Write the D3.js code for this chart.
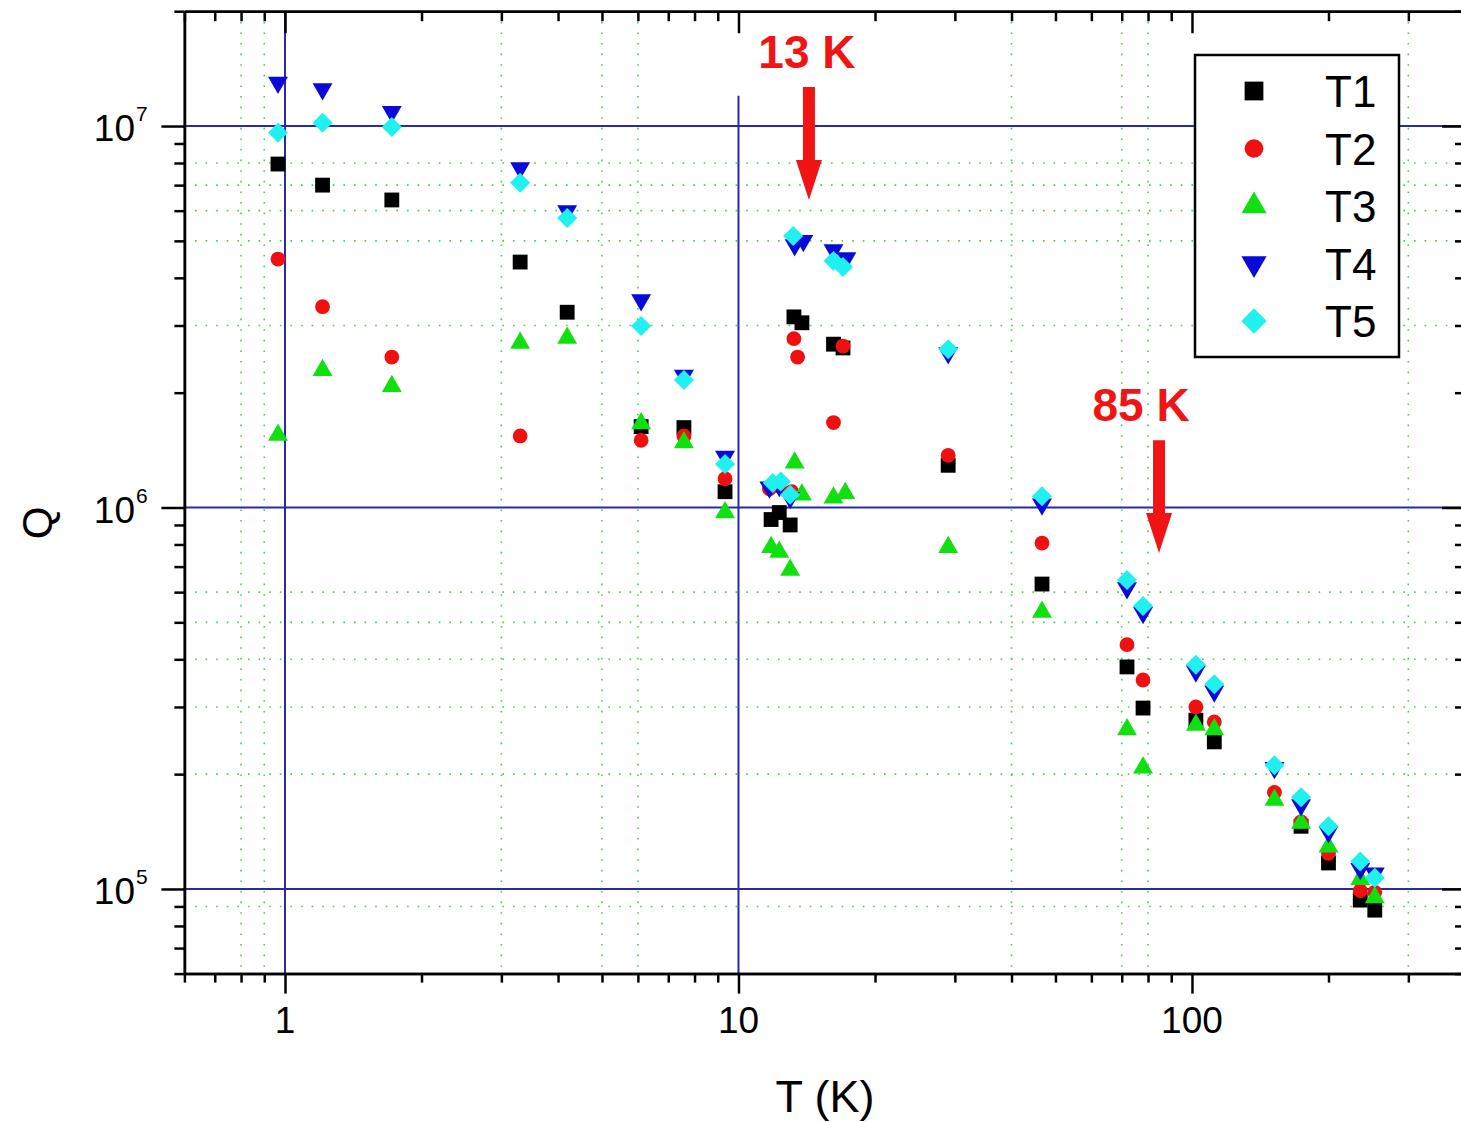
<!DOCTYPE html>
<html lang="en">
<head>
<meta charset="UTF-8">
<title>Q vs T</title>
<style>
  body { margin: 0; background: #fff; }
  svg { display: block; font-family: Arial, "Liberation Sans", sans-serif; }
</style>
</head>
<body>
<div id="chart"></div>
<script src="https://d3js.org/d3.v7.min.js"></script>
<script>
// [T (K), Q], one array per sample
const T1 = [
  [0.965, 7.95e6], [1.21, 7.0e6], [1.72, 6.4e6], [3.30, 4.4e6], [4.19, 3.25e6],
  [6.10, 1.63e6], [7.58, 1.62e6], [9.34, 1.10e6],
  [11.8, 9.3e5], [12.3, 9.7e5], [13.0, 9.0e5], [13.25, 3.16e6], [13.8, 3.05e6],
  [16.2, 2.68e6], [17.0, 2.62e6], [29.0, 1.29e6], [46.7, 6.3e5],
  [71.9, 3.82e5], [78.0, 2.98e5], [102, 2.77e5], [112, 2.43e5],
  [174, 1.46e5], [200, 1.17e5], [235, 9.35e4], [253, 8.8e4]
];
const T2 = [
  [0.965, 4.48e6], [1.21, 3.36e6], [1.72, 2.48e6], [3.30, 1.54e6],
  [6.10, 1.50e6], [7.58, 1.54e6], [9.34, 1.19e6],
  [11.7, 1.12e6], [12.3, 1.14e6], [13.1, 1.10e6], [13.25, 2.77e6], [13.5, 2.48e6],
  [16.2, 1.67e6], [17.0, 2.65e6], [29.0, 1.37e6], [46.7, 8.07e5],
  [71.9, 4.37e5], [78.0, 3.53e5], [102, 3.0e5], [112, 2.74e5],
  [152, 1.79e5], [174, 1.5e5], [200, 1.24e5], [235, 9.9e4], [253, 9.8e4]
];
const T3 = [
  [0.965, 1.55e6], [1.21, 2.29e6], [1.72, 2.08e6], [3.30, 2.70e6], [4.19, 2.78e6],
  [6.10, 1.66e6], [7.58, 1.48e6], [9.34, 9.7e5],
  [11.8, 7.87e5], [12.3, 7.64e5], [13.0, 6.86e5], [13.3, 1.31e6], [13.8, 1.08e6],
  [16.2, 1.06e6], [17.2, 1.09e6], [29.0, 7.87e5], [46.7, 5.32e5],
  [71.9, 2.62e5], [78.0, 2.08e5], [102, 2.69e5], [112, 2.62e5],
  [152, 1.71e5], [174, 1.49e5], [200, 1.29e5], [235, 1.06e5], [253, 9.5e4]
];
const T4 = [
  [0.965, 1.30e7], [1.21, 1.25e7], [1.72, 1.09e7], [3.30, 7.76e6], [4.19, 5.99e6],
  [6.10, 3.50e6], [7.58, 2.22e6], [9.34, 1.36e6],
  [11.7, 1.13e6], [12.3, 1.14e6], [13.0, 1.06e6], [13.3, 4.88e6], [13.9, 5.0e6],
  [16.2, 4.73e6], [17.3, 4.51e6], [29.0, 2.54e6], [46.7, 1.02e6],
  [71.9, 6.15e5], [78.0, 5.3e5], [102, 3.72e5], [112, 3.3e5],
  [152, 2.08e5], [174, 1.66e5], [200, 1.41e5], [235, 1.13e5], [253, 1.1e5]
];
const T5 = [
  [0.965, 9.6e6], [1.21, 1.02e7], [1.72, 9.94e6], [3.30, 7.1e6], [4.19, 5.74e6],
  [6.10, 2.99e6], [7.58, 2.16e6], [9.34, 1.30e6],
  [11.9, 1.16e6], [12.4, 1.17e6], [13.0, 1.08e6], [13.2, 5.15e6],
  [16.2, 4.43e6], [17.0, 4.27e6], [29.0, 2.6e6], [46.7, 1.07e6],
  [71.9, 6.46e5], [78.0, 5.52e5], [102, 3.87e5], [112, 3.44e5],
  [152, 2.11e5], [174, 1.74e5], [200, 1.46e5], [235, 1.18e5], [253, 1.07e5]
];

// ticks and grid
const xMajor = [1, 10, 100];
const xMinor = [0.6, 0.7, 0.8, 0.9, 2, 3, 4, 5, 6, 7, 8, 9, 20, 30, 40, 50, 60, 70, 80, 90, 200, 300, 400];
const yMajor = [1e5, 1e6, 1e7];
const yMinor = [6e4, 7e4, 8e4, 9e4, 2e5, 3e5, 4e5, 5e5, 6e5, 7e5, 8e5, 9e5,
                2e6, 3e6, 4e6, 5e6, 6e6, 7e6, 8e6, 9e6, 2e7];
const gridT = [0.8, 0.9, 3, 5, 6, 40, 70, 80, 300];
const gridQ = [9e4, 2e5, 3e5, 4e5, 5e5, 6e5, 3e6, 5e6, 6e6, 7e6, 8e6];
const blueQ = [1e5, 1e6, 1e7];
const blueT = [1, 10];
const blueTop = [2e7, 1.2e7];

// arrows: [T, Q start, Q tip]
const arrows = [
  {label: "13 K", at: [14.3, 1.265e7, 6.4e6], dx: -2},
  {label: "85 K", at: [84.6, 1.50e6, 7.6e5], dx: -18}
];

const series = [
  {name: "T1", data: T1, color: "#000000", type: d3.symbolSquare, size: 220, rot: 0},
  {name: "T2", data: T2, color: "#f01010", type: d3.symbolCircle, size: 172, rot: 0},
  {name: "T3", data: T3, color: "#10e010", type: d3.symbolTriangle, size: 172, rot: 0},
  {name: "T4", data: T4, color: "#0a0ad8", type: d3.symbolTriangle, size: 172, rot: 180},
  {name: "T5", data: T5, color: "#20f0f0", type: d3.symbolSquare, size: 200, rot: 45}
];

const W = 1461, H = 1122;
const x = d3.scaleLog().domain([0.6, 400]).range([184.4, 1465]);
const y = d3.scaleLog().domain([6e4, 2e7]).range([973.6, 11.2]);
const [x0, x1] = x.range();
const [y0, y1] = y.range();

const svg = d3.select("#chart").append("svg").attr("width", W).attr("height", H);

// dotted green grid
const grid = svg.append("g").attr("stroke", "#4ccc4c").attr("stroke-width", 1.6)
  .attr("stroke-dasharray", "1.6,9");
grid.selectAll(".gx").data(gridT).join("line")
  .attr("x1", d => x(d)).attr("x2", d => x(d)).attr("y1", y1).attr("y2", y0);
grid.selectAll(".gy").data(gridQ).join("line")
  .attr("y1", d => y(d)).attr("y2", d => y(d)).attr("x1", x0).attr("x2", x1);

// blue solid lines
const blue = svg.append("g").attr("stroke", "#2a2aa8").attr("stroke-width", 2);
blue.selectAll(".bh").data(blueQ).join("line")
  .attr("x1", x0).attr("x2", x1).attr("y1", d => y(d)).attr("y2", d => y(d));
blue.selectAll(".bv").data(blueT).join("line")
  .attr("x1", d => x(d)).attr("x2", d => x(d))
  .attr("y1", (d, i) => y(blueTop[i])).attr("y2", y0);

// points
series.forEach(s => {
  const sym = d3.symbol().type(s.type).size(s.size)();
  svg.append("g").selectAll("path").data(s.data).join("path")
    .attr("d", sym)
    .attr("fill", s.color)
    .attr("transform", d => `translate(${x(d[0])},${y(d[1])}) rotate(${s.rot})`);
});

// axes
const styleAxis = g => {
  g.selectAll("path,line").attr("stroke", "#000").attr("stroke-width", 2.5);
  g.selectAll("text").remove();
};
const addAxis = (axis, tx, ty) => svg.append("g")
  .attr("transform", `translate(${tx},${ty})`).call(axis.tickSizeOuter(0)).call(styleAxis);

addAxis(d3.axisBottom(x).tickValues(xMinor).tickSize(9), 0, y0);
addAxis(d3.axisBottom(x).tickValues(xMajor).tickSize(20), 0, y0);
addAxis(d3.axisTop(x).tickValues(xMinor).tickSize(-10), 0, y1);
addAxis(d3.axisTop(x).tickValues(xMajor).tickSize(-22), 0, y1);
addAxis(d3.axisLeft(y).tickValues(yMinor).tickSize(10), x0, 0);
addAxis(d3.axisLeft(y).tickValues(yMajor).tickSize(23), x0, 0);
addAxis(d3.axisRight(y).tickValues(yMinor).tickSize(-10), x1, 0);
addAxis(d3.axisRight(y).tickValues(yMajor).tickSize(-23), x1, 0);

// tick labels
svg.append("g").selectAll("text").data(xMajor).join("text")
  .attr("x", d => x(d)).attr("y", y0 + 59)
  .attr("text-anchor", "middle").attr("font-size", 37)
  .text(d => d3.format("d")(d));

const yl = svg.append("g");
yl.selectAll(".b").data(yMajor).join("text")
  .attr("x", 135).attr("y", d => y(d) + 15)
  .attr("text-anchor", "end").attr("font-size", 37).text("10");
yl.selectAll(".e").data(yMajor).join("text")
  .attr("x", 136).attr("y", d => y(d) - 5)
  .attr("font-size", 21).text(d => Math.round(Math.log10(d)));

// axis titles
svg.append("text").attr("x", 825).attr("y", 1112)
  .attr("text-anchor", "middle").attr("font-size", 45).text("T (K)");
svg.append("text").attr("transform", "translate(52,523) rotate(-90)")
  .attr("text-anchor", "middle").attr("font-size", 42).text("Q");

// legend
const leg = svg.append("g");
leg.append("rect").attr("x", 1195).attr("y", 55).attr("width", 204).attr("height", 302)
  .attr("fill", "#fff").attr("stroke", "#000").attr("stroke-width", 2.5);
series.forEach((s, i) => {
  const cy = 91 + i * 57.5;
  leg.append("path")
    .attr("d", d3.symbol().type(s.type).size(s.size * 1.6)())
    .attr("fill", s.color)
    .attr("transform", `translate(1254,${cy}) rotate(${s.rot})`);
  leg.append("text").attr("x", 1325).attr("y", cy + 16)
    .attr("font-size", 44).text(s.name);
});

// red arrows with labels
const red = "#f01414";
arrows.forEach(a => {
  const ax = x(a.at[0]), ya = y(a.at[1]), yb = y(a.at[2]);
  const sw = 6, hw = 13, hl = 40;
  const p = d3.path();
  p.moveTo(ax - sw, ya); p.lineTo(ax + sw, ya); p.lineTo(ax + sw, yb - hl);
  p.lineTo(ax + hw, yb - hl); p.lineTo(ax, yb); p.lineTo(ax - hw, yb - hl);
  p.lineTo(ax - sw, yb - hl); p.closePath();
  svg.append("path").attr("d", p.toString()).attr("fill", red);
  svg.append("text").attr("x", ax + a.dx).attr("y", ya - 19)
    .attr("text-anchor", "middle").attr("font-size", 46).attr("font-weight", "bold")
    .attr("fill", red).text(a.label);
});
</script>
</body>
</html>
